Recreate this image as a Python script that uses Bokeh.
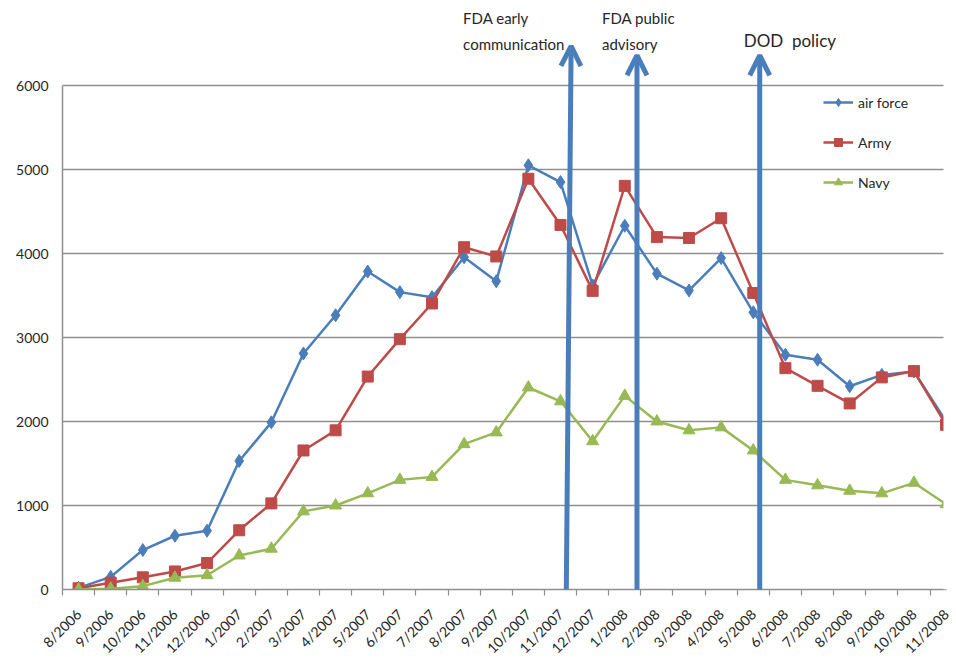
from math import pi
from bokeh.plotting import figure
from bokeh.models import (FixedTicker, Range1d, Arrow, OpenHead, Label, Legend, LegendItem,
                          BoxAnnotation)
from bokeh.embed import file_html
from bokeh.resources import INLINE

# ---- data ----
months = ["8/2006", "9/2006", "10/2006", "11/2006", "12/2006", "1/2007", "2/2007", "3/2007",
          "4/2007", "5/2007", "6/2007", "7/2007", "8/2007", "9/2007", "10/2007", "11/2007",
          "12/2007", "1/2008", "2/2008", "3/2008", "4/2008", "5/2008", "6/2008", "7/2008",
          "8/2008", "9/2008", "10/2008", "11/2008", "12/2008"]

air_force = [20, 150, 470, 640, 700, 1530, 1990, 2810, 3265, 3785, 3540, 3480, 3955, 3670,
             5050, 4850, 3620, 4330, 3760, 3560, 3945, 3300, 2795, 2735, 2420, 2555, 2595, 2000]
army = [15, 80, 145, 215, 315, 705, 1025, 1655, 1895, 2535, 2980, 3405, 4075, 3965,
        4890, 4340, 3555, 4805, 4195, 4185, 4420, 3530, 2635, 2425, 2215, 2525, 2600, 1960]
navy = [0, 10, 40, 140, 170, 405, 485, 930, 1000, 1145, 1305, 1340, 1730, 1870,
        2405, 2240, 1765, 2305, 2000, 1895, 1930, 1655, 1305, 1240, 1175, 1145, 1270, 1015]

y_ticks = [0, 1000, 2000, 3000, 4000, 5000, 6000]

# events (position on month axis) and their labels
event_x_bottom = [15.18, 17.38, 21.2]
event_x_top = [15.33, 17.38, 21.2]
event_top = [6470, 6360, 6360]
event_lines = [["FDA early", "communication"], ["FDA public", "advisory"], ["DOD\u00a0\u00a0policy"]]

FONT = "Lato"
BLUE, RED, GREEN = "#4A7EBB", "#BE4B48", "#98B954"
GRID = "#8f8f8f"
TXT = "#262626"

x = list(range(len(air_force)))

PX_PER_UNIT = 0.084  # 6000 units over 504 px
X_VISIBLE_END = 26.92

p = figure(width=956, height=665, output_backend="svg", toolbar_location=None, title=None,
           x_range=Range1d(-0.5, -0.5 + 894 / 32.13), y_range=Range1d(0, 589 / PX_PER_UNIT),
           min_border_left=62, min_border_right=0, min_border_top=0, min_border_bottom=76)
p.outline_line_color = None
p.background_fill_color = "white"
p.border_fill_color = "white"

p.xgrid.visible = False
p.ygrid.grid_line_color = GRID
p.ygrid.grid_line_width = 1.5
p.ygrid.ticker = FixedTicker(ticks=y_ticks)

# y axis
yax = p.yaxis[0]
yax.ticker = FixedTicker(ticks=y_ticks)
yax.bounds = (0, 6000)
yax.axis_line_color = GRID
yax.axis_line_width = 1.5
yax.major_tick_out = 0
yax.major_tick_in = 0
yax.minor_tick_out = 0
yax.minor_tick_in = 0
yax.major_label_standoff = 14
yax.major_label_text_font = FONT
yax.major_label_text_font_size = "14px"
yax.major_label_text_color = TXT

# x axis
xax = p.xaxis[0]
xax.ticker = FixedTicker(ticks=list(range(len(months))),
                         minor_ticks=[i + 0.5 for i in range(-1, len(months))])
xax.bounds = (-0.5, 27)
xax.major_label_overrides = {i: m for i, m in enumerate(months)}
xax.major_label_orientation = pi / 4
xax.axis_line_color = GRID
xax.axis_line_width = 1.5
xax.major_tick_out = 0
xax.major_tick_in = 0
xax.minor_tick_out = 6
xax.minor_tick_in = 0
xax.minor_tick_line_color = GRID
xax.minor_tick_line_width = 1.2
xax.major_label_standoff = 16
xax.major_label_text_font = FONT
xax.major_label_text_font_size = "14px"
xax.major_label_text_color = TXT

# series
l1 = p.line(x, air_force, line_color=BLUE, line_width=2.5)
s1 = p.scatter(x, air_force, marker="diamond", size=13, fill_color=BLUE, line_color=BLUE)
l2 = p.line(x, army, line_color=RED, line_width=2.5)
s2 = p.scatter(x, army, marker="square", size=11, fill_color=RED, line_color=RED)
l3 = p.line(x, navy, line_color=GREEN, line_width=2.5)
s3 = p.scatter(x, navy, marker="triangle", size=12, fill_color=GREEN, line_color=GREEN)

# the source picture is cropped on its right side
p.add_layout(BoxAnnotation(left=X_VISIBLE_END, fill_color="white", fill_alpha=1,
                           line_color=None))

legend = Legend(items=[LegendItem(label="air force", renderers=[l1, s1]),
                       LegendItem(label="Army", renderers=[l2, s2]),
                       LegendItem(label="Navy", renderers=[l3, s3])],
                location=(761, 397), padding=0, spacing=20, margin=0,
                glyph_width=30, glyph_height=20, label_height=20, label_standoff=5,
                border_line_color=None, background_fill_alpha=0,
                label_text_font=FONT, label_text_font_size="14px", label_text_color=TXT)
p.add_layout(legend)

# event arrows
for xb, xt, top in zip(event_x_bottom, event_x_top, event_top):
    p.add_layout(Arrow(x_start=xb, y_start=-10, x_end=xt, y_end=top,
                       line_color=BLUE, line_width=5,
                       end=OpenHead(size=20, line_color=BLUE, line_width=5)))

offsets = [-108, -35, -16]
for xt, lines, off in zip(event_x_top, event_lines, offsets):
    if len(lines) == 2:
        ys = [6800, 6500]
        size = "15px"
    else:
        ys = [6530]
        size = "17px"
    for t, yy in zip(lines, ys):
        p.add_layout(Label(x=xt, y=yy, x_offset=off, text=t, text_baseline="middle",
                           text_align="left", text_font=FONT, text_font_size=size,
                           text_color=TXT))

open("out.html", "w").write(file_html(p, INLINE))
